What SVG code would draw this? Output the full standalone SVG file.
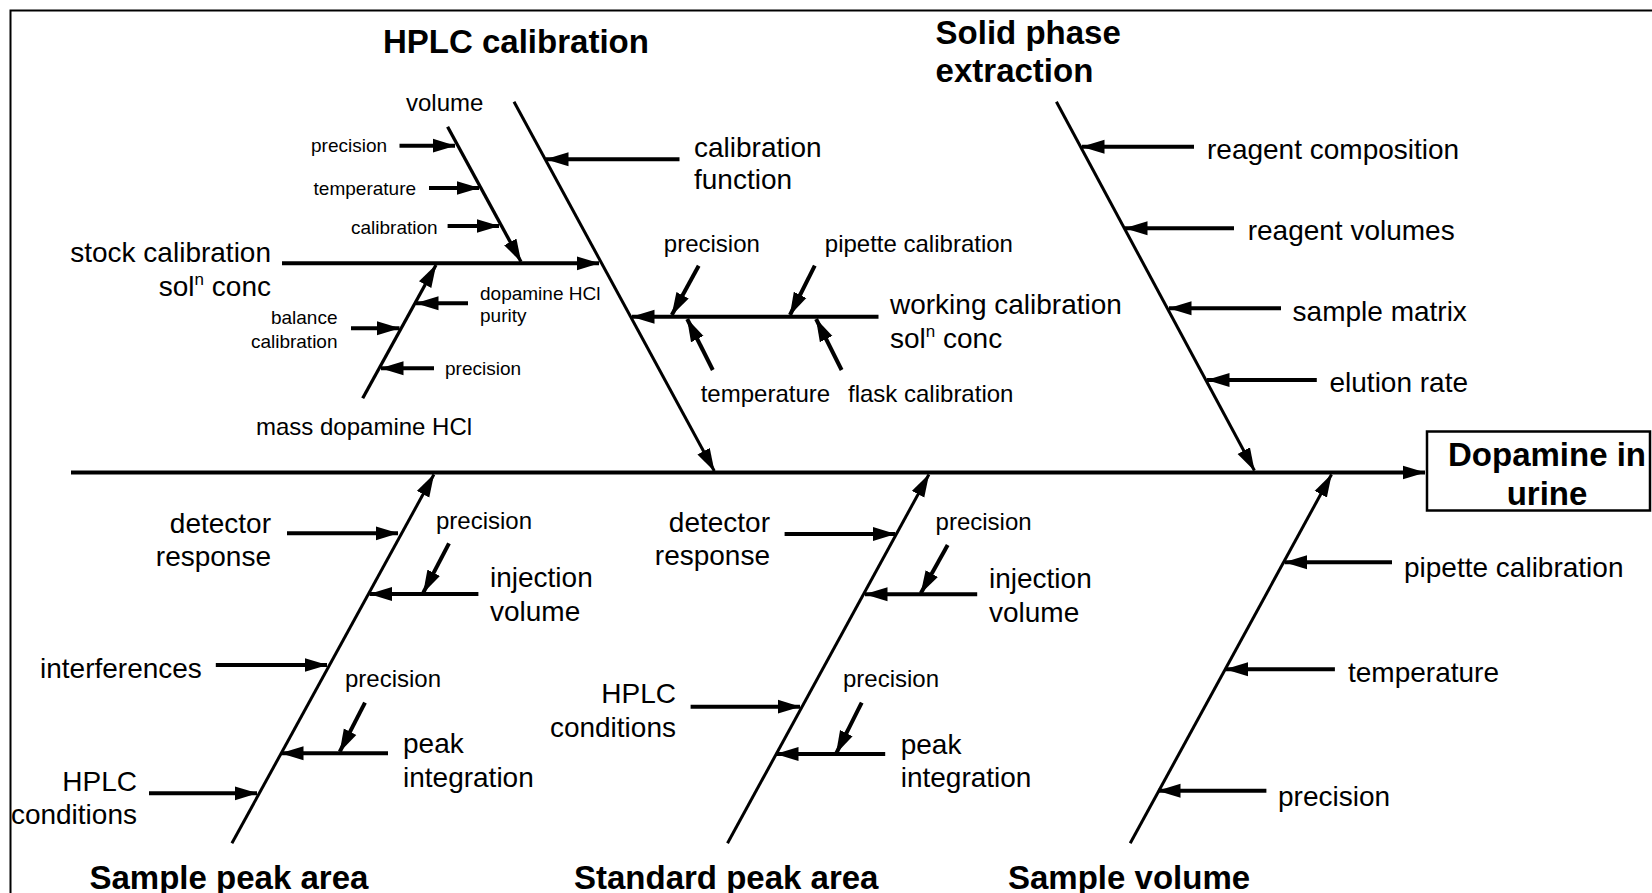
<svg xmlns="http://www.w3.org/2000/svg" width="1652" height="893" viewBox="0 0 1652 893">
<defs>
<marker id="ah" markerWidth="24" markerHeight="16" refX="22.5" refY="7.5" orient="auto" markerUnits="userSpaceOnUse"><path d="M0,0.5 L23,7.5 L0,14.5 z" fill="#000"/></marker>
<style>
text{font-family:"Liberation Sans",Arial,sans-serif;fill:#000}
.t{font-size:33px;font-weight:bold}
.m{font-size:28px}
.s{font-size:24px}
.x{font-size:19px}
.e{text-anchor:end}
.c{text-anchor:middle}
.sup{font-size:17px}
line{stroke:#000;fill:none}
.sp{stroke-width:4}
.bn{stroke-width:3}
.sb{stroke-width:3.3}
.ar{stroke-width:4}
.ln{stroke-width:4}
</style>
</defs>
<rect width="1652" height="893" fill="#fff"/>
<path d="M10.5,893 V10.5 H1652" stroke="#000" stroke-width="2" fill="none"/>

<g id="connectors">
<line class="sp" x1="71" y1="472.5" x2="1425" y2="472.5" marker-end="url(#ah)"/>
<line class="bn" x1="514" y1="101.7" x2="714.3" y2="471" marker-end="url(#ah)"/>
<line class="bn" x1="1056.4" y1="101.7" x2="1254.4" y2="470.5" marker-end="url(#ah)"/>
<line class="bn" x1="231.9" y1="843.3" x2="433.9" y2="474.5" marker-end="url(#ah)"/>
<line class="bn" x1="727.5" y1="843.3" x2="928.9" y2="474.5" marker-end="url(#ah)"/>
<line class="bn" x1="1130.2" y1="843.3" x2="1331.5" y2="474.5" marker-end="url(#ah)"/>

<line class="sb" x1="447.6" y1="126.7" x2="521" y2="261.7" marker-end="url(#ah)"/>
<line class="ar" x1="399.5" y1="145.7" x2="455" y2="145.7" marker-end="url(#ah)"/>
<line class="ar" x1="429" y1="188" x2="479" y2="188" marker-end="url(#ah)"/>
<line class="ar" x1="447.6" y1="226" x2="499" y2="226" marker-end="url(#ah)"/>
<line class="ln" x1="282" y1="263.3" x2="599" y2="263.3" marker-end="url(#ah)"/>
<line class="sb" x1="362.7" y1="398.3" x2="436" y2="265" marker-end="url(#ah)"/>
<line class="ar" x1="468" y1="303.3" x2="416" y2="303.3" marker-end="url(#ah)"/>
<line class="ar" x1="351" y1="328.3" x2="399.5" y2="328.3" marker-end="url(#ah)"/>
<line class="ar" x1="434" y1="368.3" x2="381" y2="368.3" marker-end="url(#ah)"/>
<line class="ar" x1="679.5" y1="159.3" x2="546" y2="159.3" marker-end="url(#ah)"/>
<line class="ln" x1="878.5" y1="316.7" x2="632" y2="316.7" marker-end="url(#ah)"/>
<line class="ar" x1="698.7" y1="265.7" x2="671.8" y2="315" marker-end="url(#ah)"/>
<line class="ar" x1="814.8" y1="265.7" x2="790" y2="315" marker-end="url(#ah)"/>
<line class="ar" x1="712.8" y1="370" x2="687.2" y2="319" marker-end="url(#ah)"/>
<line class="ar" x1="841.6" y1="370" x2="816.1" y2="319" marker-end="url(#ah)"/>

<line class="ar" x1="1194" y1="146.7" x2="1082" y2="146.7" marker-end="url(#ah)"/>
<line class="ar" x1="1234" y1="228.3" x2="1125" y2="228.3" marker-end="url(#ah)"/>
<line class="ar" x1="1281" y1="308.3" x2="1169" y2="308.3" marker-end="url(#ah)"/>
<line class="ar" x1="1316.8" y1="380" x2="1207" y2="380" marker-end="url(#ah)"/>

<line class="ar" x1="287" y1="533.3" x2="398" y2="533.3" marker-end="url(#ah)"/>
<line class="ar" x1="449" y1="543.3" x2="423.3" y2="592.7" marker-end="url(#ah)"/>
<line class="ar" x1="478.4" y1="594" x2="369.6" y2="594" marker-end="url(#ah)"/>
<line class="ar" x1="215.8" y1="665" x2="327" y2="665" marker-end="url(#ah)"/>
<line class="ar" x1="365" y1="702.7" x2="339.8" y2="751.7" marker-end="url(#ah)"/>
<line class="ar" x1="388" y1="753.3" x2="281" y2="753.3" marker-end="url(#ah)"/>
<line class="ar" x1="149" y1="793.3" x2="257" y2="793.3" marker-end="url(#ah)"/>

<line class="ar" x1="784.6" y1="534" x2="895.3" y2="534" marker-end="url(#ah)"/>
<line class="ar" x1="947.7" y1="545" x2="920.8" y2="593.3" marker-end="url(#ah)"/>
<line class="ar" x1="977.2" y1="594.3" x2="865" y2="594.3" marker-end="url(#ah)"/>
<line class="ar" x1="690.6" y1="706.7" x2="800" y2="706.7" marker-end="url(#ah)"/>
<line class="ar" x1="861.7" y1="702.7" x2="836.2" y2="753.3" marker-end="url(#ah)"/>
<line class="ar" x1="885.2" y1="754" x2="776" y2="754" marker-end="url(#ah)"/>

<line class="ar" x1="1392" y1="562.3" x2="1284.6" y2="562.3" marker-end="url(#ah)"/>
<line class="ar" x1="1334.9" y1="669.3" x2="1225.5" y2="669.3" marker-end="url(#ah)"/>
<line class="ar" x1="1266.4" y1="790.7" x2="1158" y2="790.7" marker-end="url(#ah)"/>
</g>

<g id="effect">
<rect x="1427" y="431.5" width="223" height="79" fill="#fff" stroke="#000" stroke-width="2.5"/>
<text class="t c" x="1547" y="466">Dopamine in</text>
<text class="t c" x="1547" y="505">urine</text>
</g>

<g id="hplc-calibration">
<text class="t" x="383" y="53">HPLC calibration</text>
<text class="m" x="694" y="156.5">calibration</text>
<text class="m" x="694" y="189">function</text>
</g>

<g id="stock-calibration">
<text class="m e" x="271" y="262">stock calibration</text>
<text class="m e" x="271" y="296">sol<tspan class="sup" dy="-11">n</tspan><tspan dy="11"> conc</tspan></text>
</g>

<g id="volume">
<text class="s" x="406" y="111">volume</text>
<text class="x" x="311" y="152">precision</text>
<text class="x" x="313.6" y="194.5">temperature</text>
<text class="x" x="351" y="233.5">calibration</text>
</g>

<g id="mass-dopamine">
<text class="s" x="256" y="435">mass dopamine HCl</text>
<text class="x" x="480" y="300">dopamine HCl</text>
<text class="x" x="480" y="322">purity</text>
<text class="x e" x="337.5" y="324">balance</text>
<text class="x e" x="337.5" y="348">calibration</text>
<text class="x" x="445" y="375">precision</text>
</g>

<g id="working-calibration">
<text class="m" x="890" y="314">working calibration</text>
<text class="m" x="890" y="348">sol<tspan class="sup" dy="-11">n</tspan><tspan dy="11"> conc</tspan></text>
<text class="s" x="663.8" y="252">precision</text>
<text class="s" x="824.8" y="252">pipette calibration</text>
<text class="s" x="700.7" y="401.5">temperature</text>
<text class="s" x="848" y="401.5">flask calibration</text>
</g>

<g id="solid-phase-extraction">
<text class="t" x="935.6" y="44">Solid phase</text>
<text class="t" x="935.6" y="82">extraction</text>
<text class="m" x="1207" y="159">reagent composition</text>
<text class="m" x="1247.7" y="240">reagent volumes</text>
<text class="m" x="1292.6" y="321">sample matrix</text>
<text class="m" x="1329.5" y="392">elution rate</text>
</g>

<g id="sample-peak-area">
<text class="t" x="89.5" y="889">Sample peak area</text>
<text class="m e" x="271" y="532.5">detector</text>
<text class="m e" x="271" y="566">response</text>
<text class="s" x="436" y="529">precision</text>
<text class="m" x="490" y="587">injection</text>
<text class="m" x="490" y="621">volume</text>
<text class="m" x="40" y="678">interferences</text>
<text class="s" x="345" y="687">precision</text>
<text class="m" x="403" y="752.8">peak</text>
<text class="m" x="403" y="786.5">integration</text>
<text class="m e" x="137" y="790.7">HPLC</text>
<text class="m e" x="137" y="824.4">conditions</text>
</g>

<g id="standard-peak-area">
<text class="t" x="574" y="889">Standard peak area</text>
<text class="m e" x="770" y="531.5">detector</text>
<text class="m e" x="770" y="565.2">response</text>
<text class="s" x="935.6" y="530">precision</text>
<text class="m" x="989" y="588.4">injection</text>
<text class="m" x="989" y="622">volume</text>
<text class="m e" x="676" y="703.3">HPLC</text>
<text class="m e" x="676" y="737">conditions</text>
<text class="s" x="843" y="687">precision</text>
<text class="m" x="900.7" y="753.8">peak</text>
<text class="m" x="900.7" y="786.5">integration</text>
</g>

<g id="sample-volume">
<text class="t" x="1008" y="889">Sample volume</text>
<text class="m" x="1404" y="576.8">pipette calibration</text>
<text class="m" x="1348" y="682.2">temperature</text>
<text class="m" x="1278" y="805.5">precision</text>
</g>
</svg>
